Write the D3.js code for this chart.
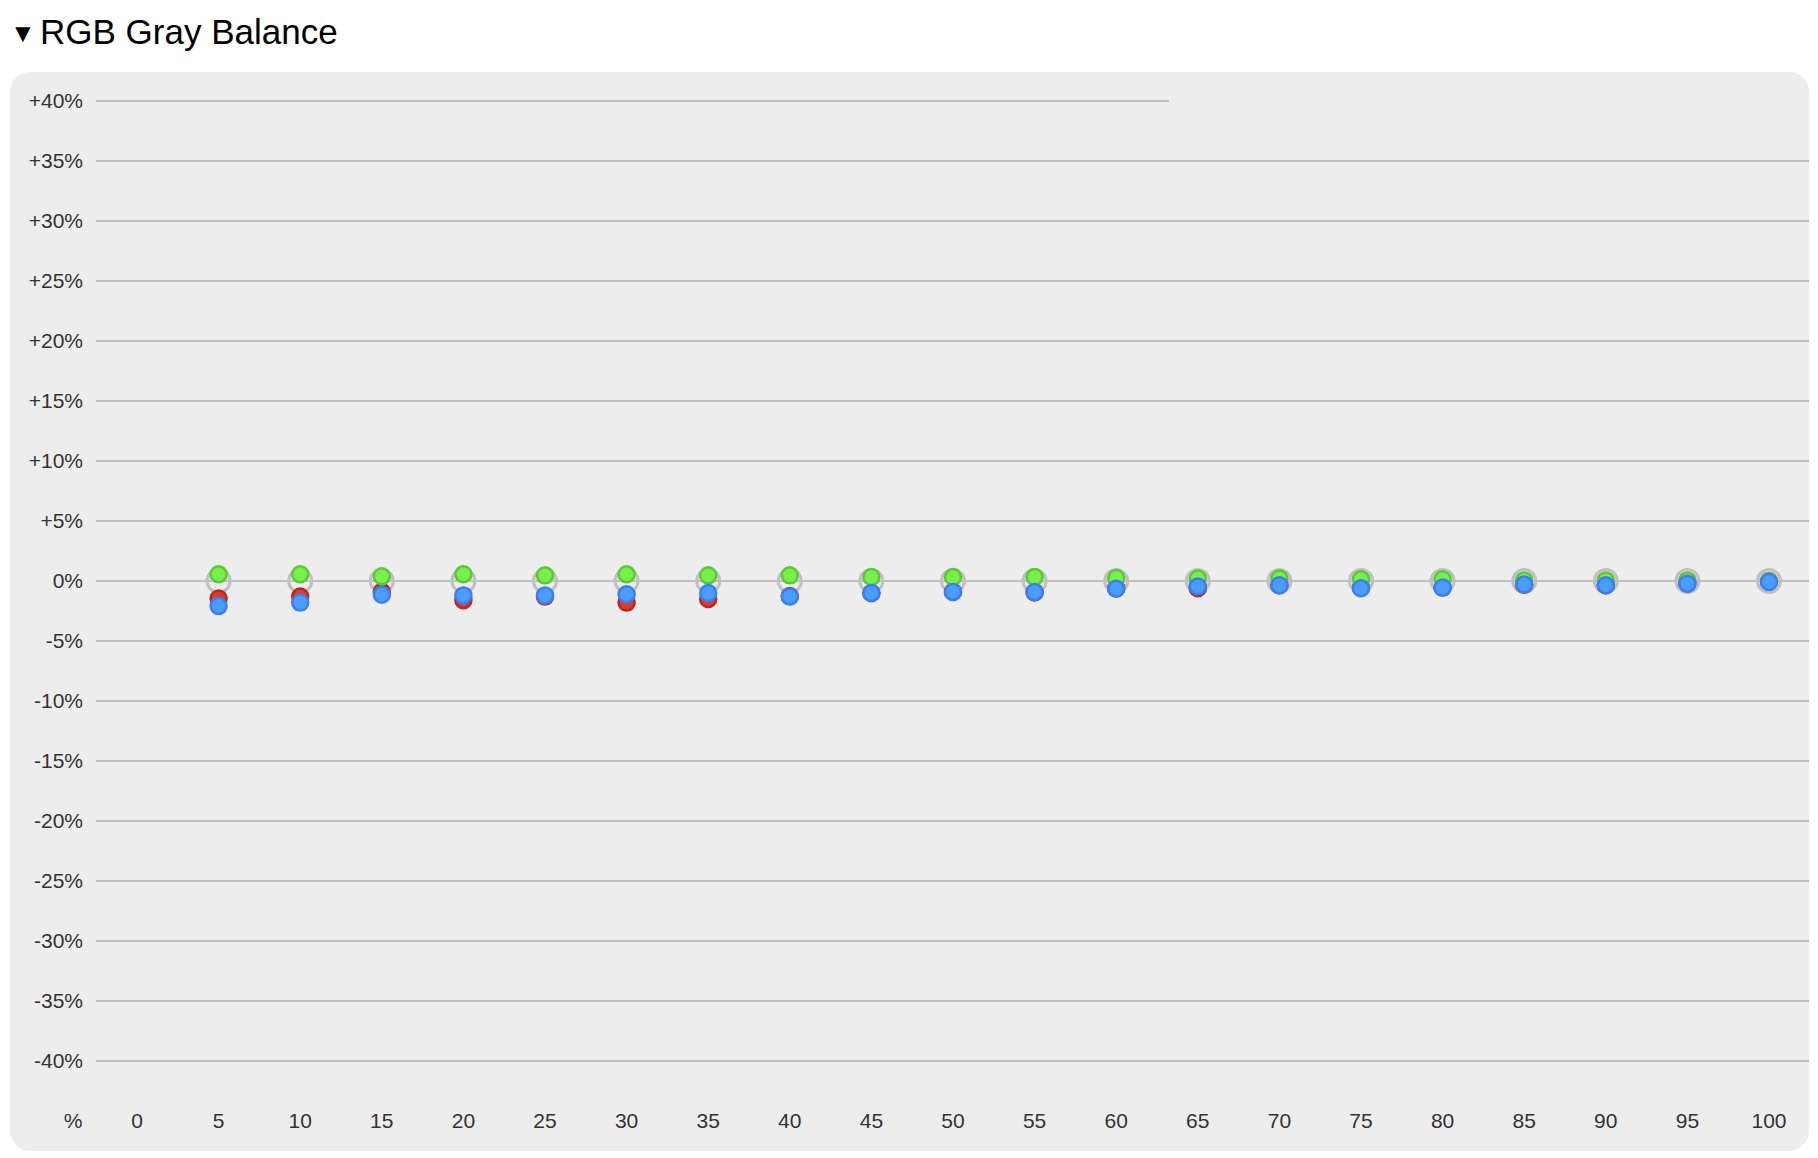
<!DOCTYPE html>
<html><head><meta charset="utf-8">
<script src="https://cdn.jsdelivr.net/npm/d3@7"></script>
<style>body{margin:0;background:#fff;font-family:"Liberation Sans",Arial,sans-serif}</style>
</head><body><svg id="c" width="1818" height="1158"></svg>
<script>
const xLabels = [0,5,10,15,20,25,30,35,40,45,50,55,60,65,70,75,80,85,90,95,100];
const yTicks = [40,35,30,25,20,15,10,5,0,-5,-10,-15,-20,-25,-30,-35,-40];
const steps = [5,10,15,20,25,30,35,40,45,50,55,60,65,70,75,80,85,90,95,100];
const redVals   = [-1.46,-1.3,-0.9,-1.6,-1.3,-1.8,-1.5,-1.25,-1.0,-0.9,-0.95,-0.6,-0.6,-0.35,-0.55,-0.55,-0.3,-0.35,-0.2,0];
const greenVals = [0.56,0.56,0.4,0.56,0.47,0.56,0.47,0.47,0.33,0.33,0.33,0.25,0.2,0.2,0.15,0.15,0.05,0.05,0.05,0];
const blueVals  = [-2.07,-1.8,-1.15,-1.2,-1.2,-1.1,-1.0,-1.3,-1.0,-0.92,-0.92,-0.64,-0.45,-0.36,-0.6,-0.55,-0.3,-0.36,-0.22,-0.08];

const svg = d3.select("#c");
const x = d3.scaleLinear().domain([0,100]).range([137,1769]);
const y = d3.scaleLinear().domain([40,-40]).range([101,1061]);

svg.append("text").attr("x",10).attr("y",42).attr("font-size",26).text("▼");
svg.append("text").attr("x",40).attr("y",44).attr("font-size",35).attr("fill","#000").text("RGB Gray Balance");
svg.append("rect").attr("x",10).attr("y",72).attr("width",1799).attr("height",1079).attr("rx",20).attr("fill","#ededed");

const g = svg.append("g");
g.selectAll("line.grid").data(yTicks).join("line")
  .attr("x1",96).attr("x2",d=>d===40?1169:1809)
  .attr("y1",d=>y(d)).attr("y2",d=>y(d))
  .attr("stroke","#c0c0c0").attr("stroke-width",2);
g.selectAll("text.yl").data(yTicks).join("text")
  .attr("x",83).attr("y",d=>y(d)).attr("dy","0.35em").attr("text-anchor","end")
  .attr("font-size",21).attr("fill","#333")
  .text(d=>(d>0?"+":"")+d+"%");
g.selectAll("text.xl").data(xLabels).join("text")
  .attr("x",d=>x(d)).attr("y",1121).attr("dy","0.35em").attr("text-anchor","middle")
  .attr("font-size",21).attr("fill","#333").text(d=>d);
g.append("text").attr("x",73).attr("y",1121).attr("dy","0.35em").attr("text-anchor","middle")
  .attr("font-size",21).attr("fill","#333").text("%");

g.selectAll("circle.ring").data(steps).join("circle")
  .attr("cx",d=>x(d)).attr("cy",y(0)).attr("r",11.5)
  .attr("fill","none").attr("stroke","#c0c0c0").attr("stroke-width",3);

const series = [
  {vals:redVals, fill:"#e03a2a", stroke:"#b8281c"},
  {vals:greenVals, fill:"#78f04c", stroke:"#5cc836"},
  {vals:blueVals, fill:"#4a9cff", stroke:"#3a7ff0"}
];
series.forEach(s=>{
  g.append("g").selectAll("circle").data(steps).join("circle")
    .attr("cx",d=>x(d)).attr("cy",(d,i)=>y(s.vals[i])).attr("r",8)
    .attr("fill",s.fill).attr("stroke",s.stroke).attr("stroke-width",2.5);
});
</script></body></html>
